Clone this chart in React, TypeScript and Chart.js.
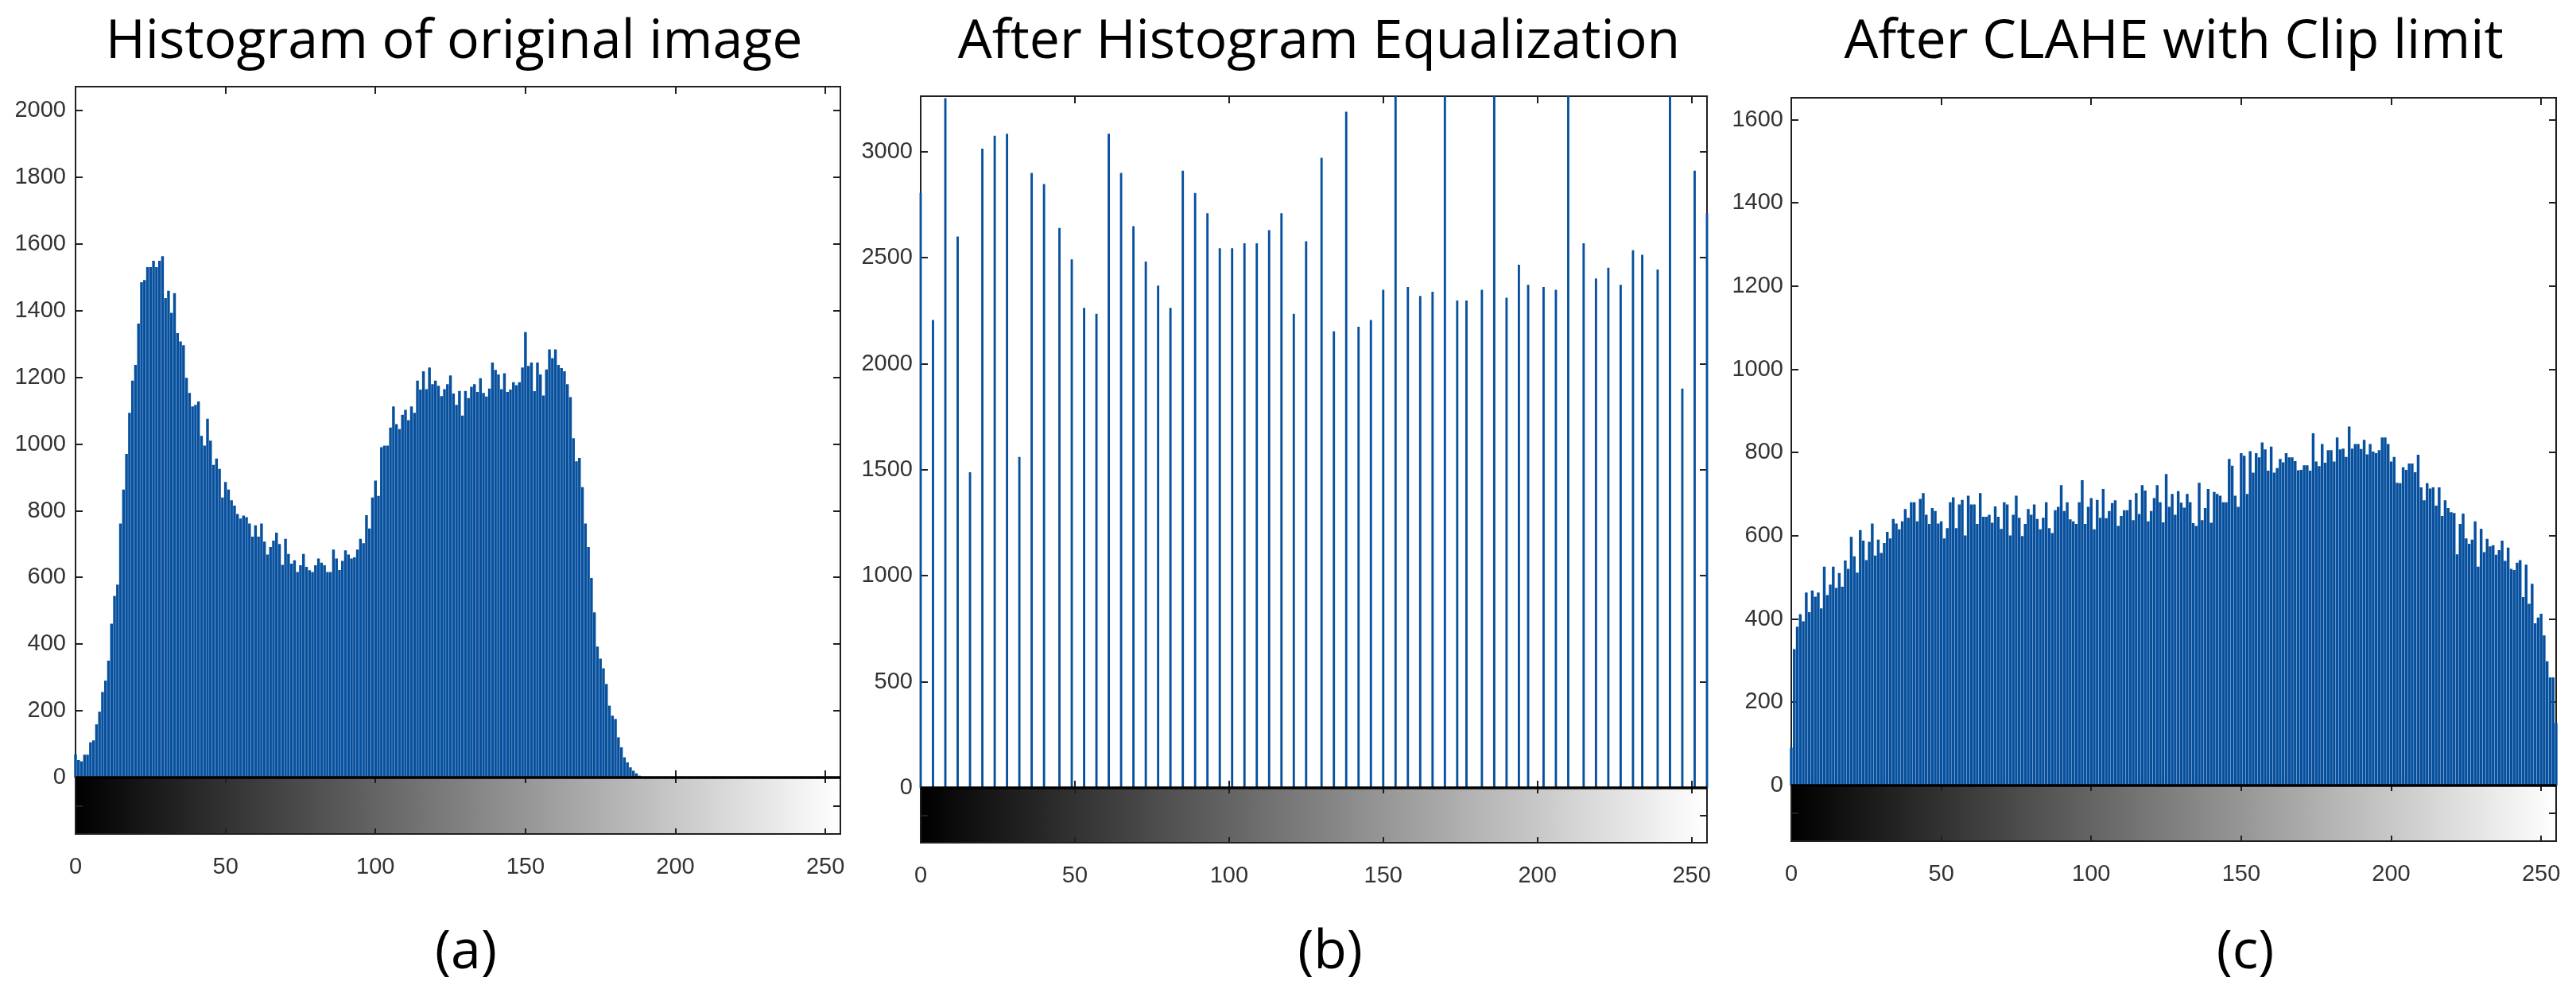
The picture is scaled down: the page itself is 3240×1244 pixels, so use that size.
import React, { useEffect, useRef } from "react";
import { Chart, registerables } from "chart.js";

Chart.register(...registerables);

// ---------------- data ----------------
const xTickValues = [0, 50, 100, 150, 200, 250];
const yTicksOriginal = [0, 200, 400, 600, 800, 1000, 1200, 1400, 1600, 1800, 2000];
const yTicksEqualized = [0, 500, 1000, 1500, 2000, 2500, 3000];
const yTicksClahe = [0, 200, 400, 600, 800, 1000, 1200, 1400, 1600];

const titles = ["Histogram of original image", "After Histogram Equalization", "After CLAHE with Clip limit"];
const captions = ["(a)", "(b)", "(c)"];

// pixel counts for grey levels 0..188 (levels 189..255 are empty)
const countsOriginal = [
  69, 52, 48, 68, 68, 105, 111, 159, 197, 256,
  290, 350, 461, 544, 578, 761, 863, 970, 1093, 1190,
  1237, 1361, 1485, 1491, 1530, 1530, 1549, 1530, 1549, 1563,
  1437, 1459, 1393, 1452, 1332, 1307, 1296, 1198, 1153, 1112,
  1117, 1127, 1024, 995, 1075, 1010, 937, 956, 925, 839,
  886, 863, 831, 815, 790, 776, 785, 780, 761, 722,
  756, 722, 761, 707, 668, 691, 710, 734, 700, 637,
  715, 670, 641, 651, 616, 636, 670, 631, 621, 616,
  636, 656, 644, 636, 616, 616, 683, 656, 622, 649,
  681, 668, 656, 660, 683, 715, 702, 786, 746, 839,
  890, 844, 990, 995, 995, 1049, 1112, 1059, 1044, 1087,
  1102, 1071, 1112, 1093, 1190, 1163, 1218, 1164, 1229, 1179,
  1190, 1174, 1143, 1164, 1179, 1205, 1151, 1117, 1159, 1085,
  1159, 1137, 1171, 1179, 1156, 1197, 1153, 1142, 1166, 1244,
  1222, 1208, 1164, 1212, 1156, 1163, 1185, 1176, 1185, 1229,
  1335, 1234, 1244, 1158, 1244, 1208, 1145, 1223, 1283, 1257,
  1283, 1237, 1227, 1218, 1179, 1140, 1017, 948, 958, 870,
  761, 691, 598, 495, 392, 356, 327, 280, 215, 185,
  175, 120, 90, 60, 45, 30, 20, 12, 5,
];

// histogram equalization: occupied grey levels and their counts
const binsEqualized = [
  0, 4, 8, 12, 16, 20, 24, 28, 32, 36, 40, 45, 49, 53, 57, 61,
  65, 69, 73, 77, 81, 85, 89, 93, 97, 101, 105, 109, 113, 117, 121, 125,
  130, 134, 138, 142, 146, 150, 154, 158, 162, 166, 170, 174, 177, 182, 186, 190,
  194, 197, 202, 206, 210, 215, 219, 223, 227, 231, 234, 239, 243, 247, 251, 255,
];
const countsEqualized = [
  2804, 2205, 3251, 2599, 1487, 3013, 3074, 3084, 1559, 2899, 2846, 2639, 2491, 2262, 2234, 3084,
  2899, 2648, 2481, 2367, 2262, 2909, 2804, 2709, 2544, 2544, 2567, 2567, 2629, 2709, 2234, 2576,
  2970, 2152, 3188, 2173, 2205, 2348, 3480, 2361, 2319, 2338, 3520, 2297, 2297, 2348, 3460, 2310,
  2466, 2371, 2361, 2348, 3600, 2567, 2401, 2452, 2371, 2534, 2513, 2443, 3500, 1882, 2909, 2709,
];

// CLAHE: counts for grey levels 0..255
const countsClahe = [
  90, 327, 381, 411, 394, 463, 416, 468, 453, 463,
  425, 525, 457, 482, 525, 474, 510, 477, 540, 520,
  597, 550, 511, 613, 588, 541, 585, 629, 552, 590,
  558, 582, 609, 593, 640, 629, 615, 634, 664, 643,
  680, 680, 634, 688, 702, 650, 628, 666, 659, 629,
  634, 593, 618, 680, 692, 618, 675, 686, 600, 696,
  675, 675, 628, 702, 645, 645, 650, 631, 670, 645,
  616, 680, 675, 600, 650, 696, 643, 599, 628, 664,
  650, 675, 640, 615, 643, 680, 618, 606, 661, 669,
  721, 659, 680, 639, 634, 628, 680, 733, 628, 669,
  690, 615, 686, 643, 712, 642, 659, 678, 685, 623,
  647, 661, 661, 686, 637, 702, 652, 721, 708, 634,
  659, 690, 721, 680, 632, 748, 669, 700, 650, 707,
  679, 667, 700, 680, 630, 623, 727, 637, 666, 712,
  631, 705, 700, 696, 680, 680, 784, 768, 696, 669,
  798, 792, 700, 803, 751, 798, 788, 824, 807, 756,
  814, 751, 762, 784, 776, 798, 788, 788, 779, 757,
  758, 769, 769, 756, 846, 778, 767, 820, 775, 805,
  805, 778, 836, 807, 809, 789, 862, 809, 820, 820,
  808, 830, 795, 820, 802, 798, 805, 836, 836, 820,
  778, 789, 727, 726, 764, 758, 773, 773, 752, 794,
  716, 685, 726, 713, 716, 672, 716, 647, 685, 666,
  656, 654, 555, 628, 653, 593, 580, 590, 634, 525,
  616, 560, 592, 574, 577, 554, 565, 588, 539, 571,
  520, 517, 535, 541, 452, 530, 436, 484, 389, 403,
  412, 360, 298, 259, 259, 149,
];

// ---------------- layout / style ----------------
const BLUE = "#07509e";
const FRAME = "#202020";
const LABEL = "#333333";
const TICK_FONT = "'Liberation Sans', Arial, Helvetica, sans-serif";
const TITLE_FONT = "'Open Sans', 'Noto Sans', sans-serif";
const PAD_TOP = 40;
const PAD_RIGHT = 45;
const X_AXIS_H = 100;
const TICK_LEN = 9;

type Spec = {
  xs: number[];
  ys: number[];
  yTicks: number[];
  yMin: number;
  yMax: number;
  L: number;
  R: number;
  T: number;
  B: number;
  axisW: number;
  yPad: number;
  barW: number;
};

const specs: Spec[] = [
  {
    xs: countsOriginal.map((_, i) => i),
    ys: countsOriginal,
    yTicks: yTicksOriginal,
    yMin: -169,
    yMax: 2072,
    L: 95, R: 1057, T: 109, B: 1049,
    axisW: 95, yPad: 12, barW: 2.8,
  },
  {
    xs: binsEqualized,
    ys: countsEqualized,
    yTicks: yTicksEqualized,
    yMin: -259,
    yMax: 3262,
    L: 1158, R: 2147, T: 121, B: 1060,
    axisW: 100, yPad: 10, barW: 2.2,
  },
  {
    xs: countsClahe.map((_, i) => i),
    ys: countsClahe,
    yTicks: yTicksClahe,
    yMin: -134,
    yMax: 1653,
    L: 2253, R: 3215, T: 123, B: 1058,
    axisW: 100, yPad: 10, barW: 2.8,
  },
];

const titleCenters = [571, 1659, 2734];
const captionCenters = [586, 1673, 2824];

function HistPanel({ spec }: { spec: Spec }) {
  const ref = useRef<HTMLCanvasElement | null>(null);

  useEffect(() => {
    const canvas = ref.current;
    if (!canvas) return;
    const points = spec.xs.map((x, i) => ({ x, y: spec.ys[i] }));

    const framePlugin = {
      id: "matlabFrame",
      beforeDatasetsDraw(chart: any) {
        const { ctx, chartArea: ca, scales } = chart;
        const xs = scales.x;
        const ys = scales.y;
        const z = Math.round(ys.getPixelForValue(0));
        ctx.save();
        // grey colour bar under the histogram
        const x0 = xs.getPixelForValue(0);
        const x1 = xs.getPixelForValue(255);
        const g = ctx.createLinearGradient(x0, 0, x1, 0);
        g.addColorStop(0, "#000000");
        g.addColorStop(1, "#ffffff");
        ctx.fillStyle = g;
        ctx.fillRect(ca.left, z, ca.right - ca.left, ca.bottom - z);
        // frame
        ctx.strokeStyle = FRAME;
        ctx.lineWidth = 2;
        ctx.strokeRect(ca.left, ca.top, ca.right - ca.left, ca.bottom - ca.top);
        // inward ticks
        ctx.beginPath();
        for (const v of spec.yTicks) {
          const py = Math.round(ys.getPixelForValue(v));
          ctx.moveTo(ca.left, py);
          ctx.lineTo(ca.left + TICK_LEN, py);
          ctx.moveTo(ca.right, py);
          ctx.lineTo(ca.right - TICK_LEN, py);
        }
        for (const v of xTickValues) {
          const px = Math.round(xs.getPixelForValue(v));
          ctx.moveTo(px, ca.top);
          ctx.lineTo(px, ca.top + TICK_LEN);
          ctx.moveTo(px, z);
          ctx.lineTo(px, z - TICK_LEN);
          ctx.moveTo(px, z);
          ctx.lineTo(px, z + 7);
          ctx.moveTo(px, ca.bottom);
          ctx.lineTo(px, ca.bottom - 7);
        }
        const mid = Math.round((z + ca.bottom) / 2);
        ctx.moveTo(ca.left, mid);
        ctx.lineTo(ca.left + TICK_LEN, mid);
        ctx.moveTo(ca.right, mid);
        ctx.lineTo(ca.right - TICK_LEN, mid);
        ctx.stroke();
        ctx.restore();
      },
      afterDatasetsDraw(chart: any) {
        const { ctx, chartArea: ca, scales } = chart;
        const z = Math.round(scales.y.getPixelForValue(0));
        ctx.save();
        ctx.strokeStyle = "#000000";
        ctx.lineWidth = 3.5;
        ctx.beginPath();
        ctx.moveTo(ca.left, z);
        ctx.lineTo(ca.right, z);
        ctx.stroke();
        ctx.restore();
      },
    };

    const tickFont = { family: TICK_FONT, size: 29 };

    const chart = new Chart(canvas, {
      type: "bar",
      data: {
        datasets: [
          {
            data: points as any,
            backgroundColor: BLUE,
            borderWidth: 0,
            barThickness: spec.barW,
            grouped: false,
            clip: { left: 5, right: 5, top: 0, bottom: 0 } as any,
          } as any,
        ],
      },
      options: {
        animation: false,
        responsive: false,
        maintainAspectRatio: false,
        devicePixelRatio: 1,
        events: [],
        layout: { padding: { top: PAD_TOP, right: PAD_RIGHT, left: 0, bottom: 0 } },
        plugins: {
          legend: { display: false },
          tooltip: { enabled: false },
          title: { display: false },
        },
        scales: {
          x: {
            type: "linear",
            min: 0,
            max: 255,
            offset: false,
            grid: { display: false, drawTicks: false },
            border: { display: false },
            ticks: {
              autoSkip: false,
              maxRotation: 0,
              color: LABEL,
              font: tickFont,
              padding: 25,
              callback: (v: any) => String(v),
            },
            afterBuildTicks: (s: any) => {
              s.ticks = xTickValues.map((v) => ({ value: v }));
            },
            afterFit: (s: any) => {
              s.height = X_AXIS_H;
            },
          },
          y: {
            type: "linear",
            min: spec.yMin,
            max: spec.yMax,
            grid: { display: false, drawTicks: false },
            border: { display: false },
            ticks: {
              autoSkip: false,
              color: LABEL,
              font: tickFont,
              padding: spec.yPad,
              callback: (v: any) => String(v),
            },
            afterBuildTicks: (s: any) => {
              s.ticks = spec.yTicks.map((v) => ({ value: v }));
            },
            afterFit: (s: any) => {
              s.width = spec.axisW;
            },
          },
        },
      } as any,
      plugins: [framePlugin],
    });
    return () => chart.destroy();
  }, [spec]);

  const left = spec.L - spec.axisW;
  const top = spec.T - PAD_TOP;
  const width = spec.axisW + (spec.R - spec.L) + PAD_RIGHT;
  const height = PAD_TOP + (spec.B - spec.T) + X_AXIS_H;
  return (
    <canvas
      ref={ref}
      width={width}
      height={height}
      style={{ position: "absolute", left, top, width, height }}
    />
  );
}

const textStyle = (cx: number, top: number): React.CSSProperties => ({
  position: "absolute",
  left: cx - 600,
  width: 1200,
  top,
  textAlign: "center",
  fontFamily: TITLE_FONT,
  fontSize: 68,
  lineHeight: "68px",
  color: "#000000",
  whiteSpace: "nowrap",
});

export default function App() {
  return (
    <div
      style={{
        position: "absolute",
        left: 0,
        top: 0,
        width: 3240,
        height: 1244,
        overflow: "hidden",
        background: "#ffffff",
      }}
    >
      {specs.map((s, i) => (
        <HistPanel key={i} spec={s} />
      ))}
      {titles.map((t, i) => (
        <div key={"t" + i} style={textStyle(titleCenters[i], 13)}>
          {t}
        </div>
      ))}
      {captions.map((c, i) => (
        <div key={"c" + i} style={textStyle(captionCenters[i], 1158)}>
          {c}
        </div>
      ))}
    </div>
  );
}
